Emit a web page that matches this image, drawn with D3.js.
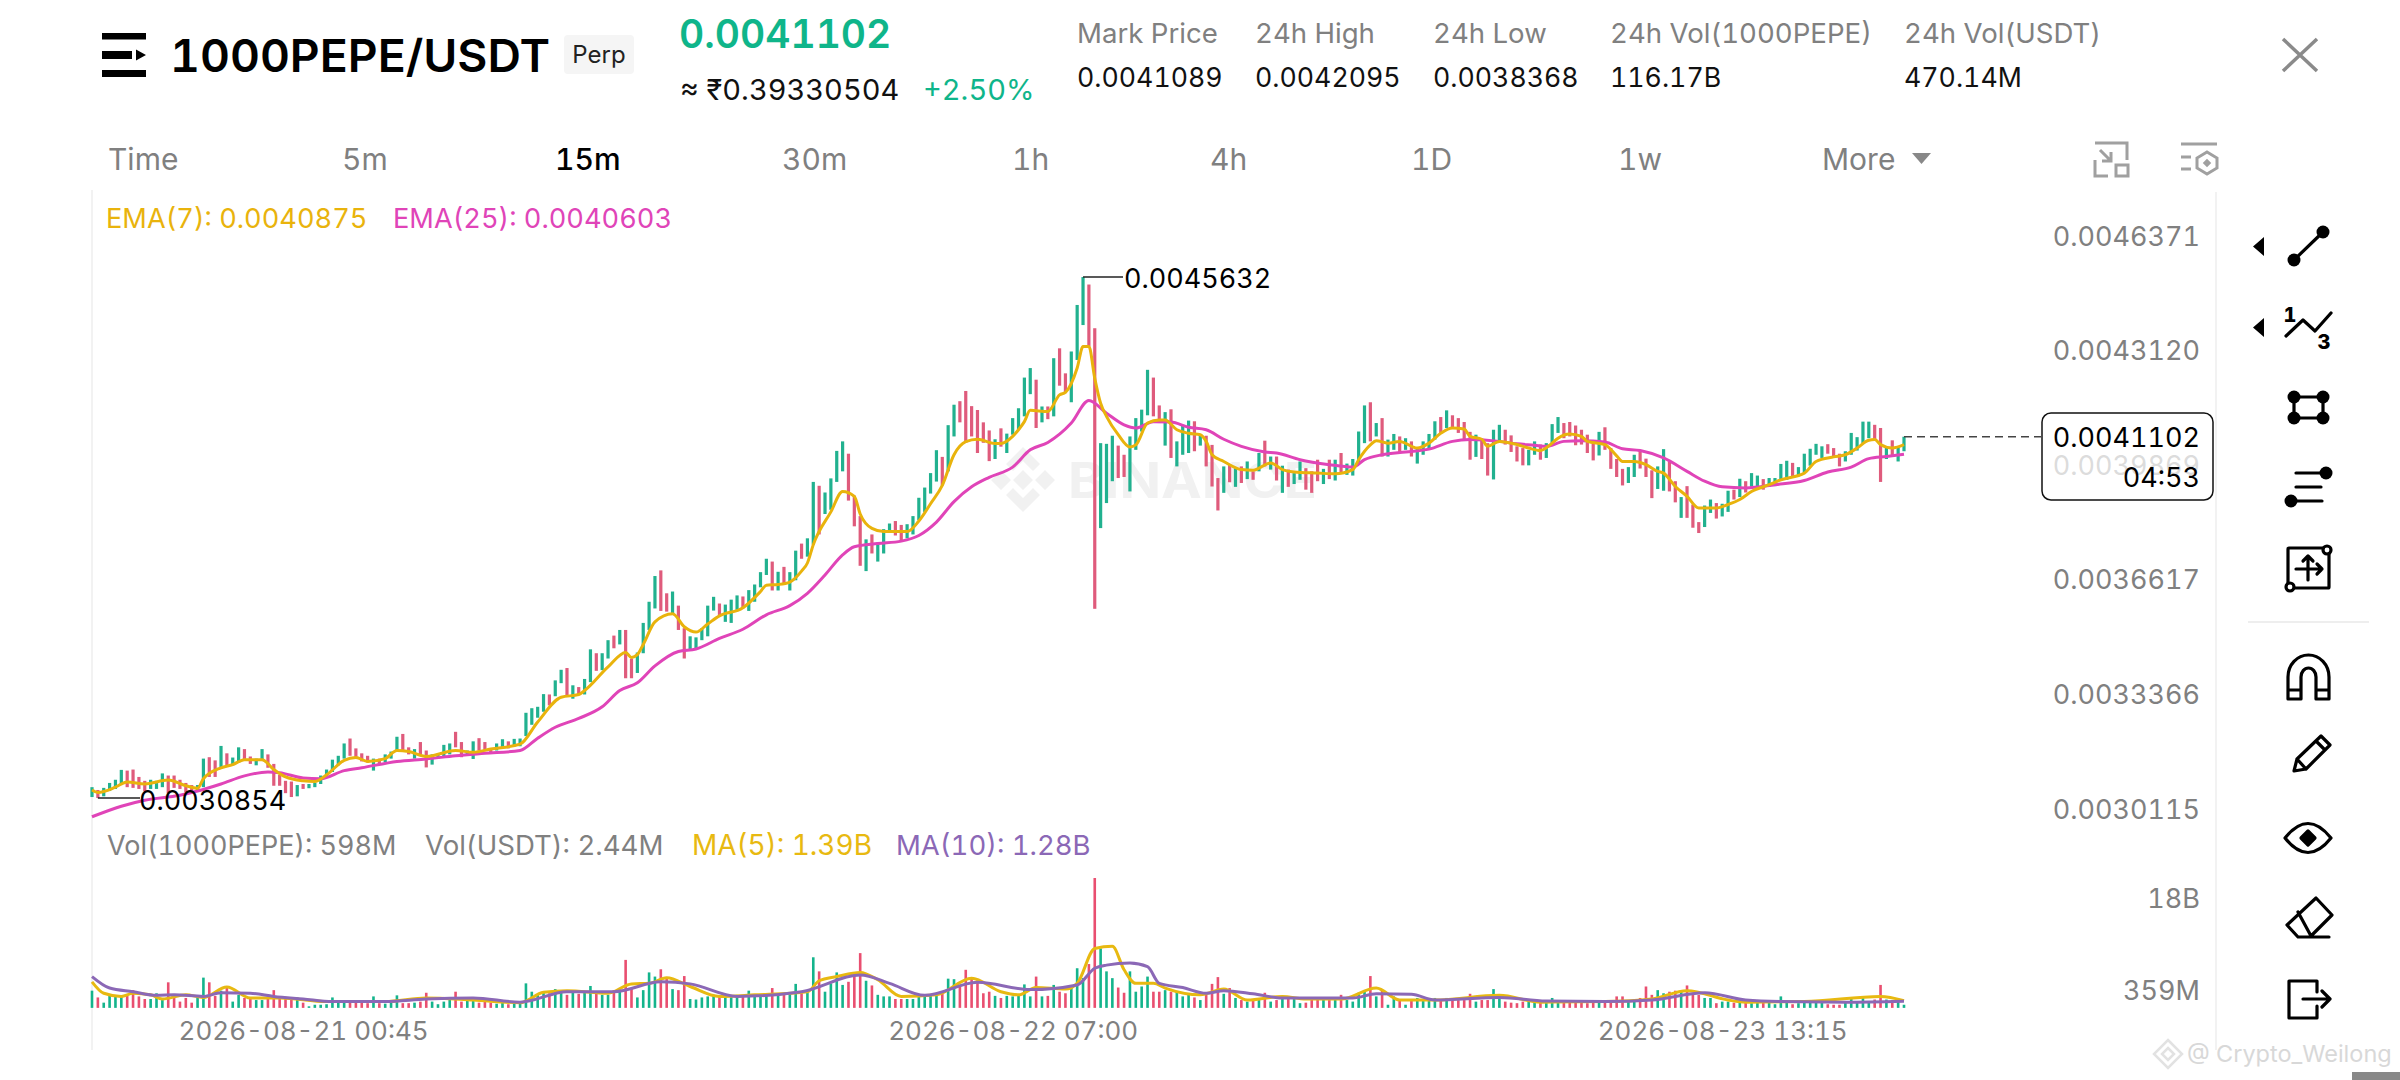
<!DOCTYPE html>
<html>
<head>
<meta charset="utf-8">
<script src="https://cdn.jsdelivr.net/npm/d3@7"></script>
<style>
  html, body { margin: 0; padding: 0; background: #fff; overflow: hidden; }
  svg { display: block; font-family: Inter, 'Open Sans', sans-serif; font-variant-numeric: tabular-nums; font-feature-settings: 'tnum'; }
</style>
</head>
<body>
<div id="chart"></div>
<script>
// prices are in millionths of USDT, volumes in billions of 1000PEPE
const highs = [
  3116,3108,3114,3128,3137,3165,3163,3166,3145,3134,
  3137,3134,3155,3149,3149,3137,3128,3122,3122,3197,
  3201,3192,3233,3212,3200,3229,3224,3203,3197,3224,
  3209,3182,3151,3134,3132,3122,3125,3125,3128,3149,
  3166,3194,3205,3240,3254,3226,3212,3205,3197,3197,
  3209,3217,3259,3267,3229,3224,3244,3220,3209,3209,
  3236,3240,3273,3244,3220,3246,3255,3244,3226,3240,
  3252,3246,3253,3254,3327,3340,3344,3380,3379,3419,
  3449,3454,3405,3400,3423,3507,3496,3496,3533,3546,
  3562,3562,3481,3498,3582,3642,3715,3731,3666,3671,
  3631,3567,3544,3541,3567,3631,3656,3637,3634,3648,
  3660,3657,3675,3691,3726,3764,3756,3727,3741,3726,
  3787,3807,3822,3982,3971,3952,3992,4070,4097,4062,
  3943,3885,3819,3833,3810,3848,3864,3871,3860,3862,
  3885,3937,3966,4007,4072,4053,4143,4201,4211,4240,
  4197,4186,4151,4128,4103,4134,4119,4163,4191,4278,
  4305,4272,4196,4196,4333,4361,4290,4352,4484,4563.2,
  4542,4418,4092,4090,4113,4085,4059,4111,4163,4187,
  4300,4278,4199,4180,4188,4097,4144,4156,4154,4116,
  4113,4087,3993,4026,4031,4021,4026,4040,4012,4064,
  4099,4054,4054,4028,4017,4007,4040,4021,4012,4045,
  4019,4045,4045,4064,4034,4047,4125,4199,4208,4149,
  4163,4102,4118,4111,4106,4097,4081,4097,4118,4154,
  4166,4185,4171,4163,4152,4124,4116,4105,4092,4130,
  4144,4130,4114,4083,4078,4073,4097,4088,4092,4146,
  4166,4149,4152,4142,4130,4116,4092,4124,4137,4078,
  4047,4019,4024,4059,4071,4048,4015,4026,4075,4040,
  3984,3939,3970,3918,3868,3915,3932,3922,3920,3957,
  3960,3991,3984,4007,4000,3990,3993,3993,4033,4042,
  4036,4024,4062,4076,4090,4083,4089,4078,4062,4069,
  4121,4109,4153,4153,4144,4135,4083,4100,4083,4110.2
];
const lows = [
  3088,3085.4,3090,3105,3111,3122,3116,3114,3111,3105,
  3111,3111,3116,3099,3114,3111,3101,3101,3105,3116,
  3145,3145,3168,3174,3178,3186,3192,3182,3178,3192,
  3171,3120,3120,3099,3088,3090,3111,3113,3116,3125,
  3145,3159,3178,3197,3205,3201,3189,3186,3163,3182,
  3186,3197,3217,3220,3209,3197,3209,3172,3180,3197,
  3203,3209,3229,3201,3209,3196,3220,3220,3212,3220,
  3229,3226,3232,3232,3261,3293,3313,3330,3348,3374,
  3411,3377,3367,3377,3379,3414,3446,3448,3481,3510,
  3521,3425,3425,3440,3496,3562,3623,3616,3614,3608,
  3562,3481,3506,3510,3533,3544,3617,3602,3585,3582,
  3619,3623,3616,3642,3683,3718,3674,3674,3691,3674,
  3703,3764,3770,3804,3833,3891,3903,3982,4012,3929,
  3856,3744,3729,3779,3756,3779,3839,3830,3816,3822,
  3833,3874,3897,3949,3983,3972,4012,4111,4151,4093,
  4111,4064,4093,4041,4047,4082,4064,4116,4130,4168,
  4231,4135,4151,4160,4168,4255,4234,4208,4328,4427,
  4366,3622,3851,3922,3984,3993,3996,3955,4073,4125,
  4171,4168,4149,4085,4050,4026,4059,4064,4069,4085,
  4026,3969,3901,3951,3981,3968,3979,3990,3988,4012,
  4026,4017,3986,3951,3968,3976,3988,3960,3951,3984,
  3976,3990,3986,4007,4002,4000,4036,4092,4097,4111,
  4054,4054,4073,4064,4073,4054,4034,4059,4078,4102,
  4120,4135,4135,4121,4102,4045,4053,4047,4000,3989,
  4097,4088,4067,4040,4029,4029,4059,4045,4050,4088,
  4121,4106,4111,4086,4088,4064,4043,4057,4073,4019,
  3996,3972,3979,3996,4020,3996,3936,3962,3957,3955,
  3924,3880,3880,3852,3837,3854,3894,3878,3884,3897,
  3932,3939,3952,3968,3968,3960,3968,3970,3986,3988,
  3998,3998,4009,4028,4059,4050,4062,4054,4026,4040,
  4059,4071,4092,4106,4103,3982,4047,4053,4040,4069
];
// u = up candle, d = down candle, ten per string
const sides = [
  'uduuuudddd','uuuddddduu','dduduudduu','ddddduduuu','uuuuddddud',
  'uuuddudduu','uudduudddu','uduuuuuudu','ududuuduud','udduuuuddu',
  'dduuuuuduu','uduuuududu','uduuduuuud','dduduuuddu','uuuuuduudd',
  'dddduduuuu','udududduuu','dduuudduuu','udduduuudu','dddudududu',
  'dududuuddd','ududuuuudu','duududuuuu','dudddduddu','udddduuduu',
  'uddddddudd','dduuddduud','duddduuduu','duduuduuuu','duuuuudddu',
  'uuuudduduu'
].join('');
const volumes = [
  3.3,2.0,1.0,2.3,2.3,2.2,2.3,3.4,2.2,1.7,
  1.7,2.8,1.5,4.9,2.2,1.2,1.9,1.0,2.2,5.8,
  4.9,2.3,3.3,3.8,1.2,2.5,1.9,1.7,1.5,1.5,
  2.2,3.4,2.2,1.9,2.0,2.0,1.0,0.3,0.6,0.6,
  0.7,2.0,1.2,1.2,1.0,1.0,1.0,0.9,2.2,0.9,
  0.8,1.0,2.4,0.9,0.9,1.0,1.2,2.9,1.2,0.7,
  1.2,1.9,3.1,1.2,1.5,1.5,1.0,1.2,1.0,0.8,
  1.2,0.7,0.9,0.9,4.7,3.1,2.5,3.1,2.8,3.6,
  3.4,2.5,3.1,2.7,2.9,4.2,2.8,2.5,2.5,3.4,
  3.1,9.2,3.8,2.0,3.4,6.8,6.0,7.4,5.9,3.6,
  3.4,6.1,1.7,1.6,2.0,2.2,2.5,2.3,2.3,2.2,
  2.5,2.2,3.3,2.5,2.5,2.8,3.8,2.7,2.8,2.8,
  4.6,2.8,3.1,9.7,7.0,3.1,4.7,6.8,4.4,5.0,
  6.8,10.5,5.2,4.3,2.5,2.2,2.2,1.7,1.7,1.7,
  1.7,2.2,2.2,2.5,2.5,2.8,5.6,5.5,4.4,7.3,
  5.7,5.2,2.8,3.1,2.3,1.9,2.3,2.2,2.3,4.5,
  2.2,6.0,2.2,2.3,4.4,3.1,2.8,4.1,7.6,5.7,
  8.4,24.9,11.4,7.0,5.7,3.9,2.9,7.0,3.1,4.1,
  6.0,3.1,3.1,3.4,3.1,3.1,2.2,2.8,2.0,1.5,
  2.5,4.6,5.9,2.7,3.8,1.9,1.5,1.2,1.5,1.5,
  2.9,1.2,1.5,1.9,2.0,1.9,0.9,1.0,1.9,1.9,
  1.9,1.5,1.9,2.5,1.5,1.2,2.9,3.4,6.1,2.2,
  3.4,0.6,2.2,1.5,0.6,1.5,1.9,1.5,1.5,1.9,
  1.5,1.9,1.5,1.5,1.5,2.7,1.2,1.5,1.5,3.6,
  2.2,1.2,1.0,0.9,1.2,1.3,1.2,1.0,1.2,1.9,
  1.2,1.0,1.0,1.0,1.5,0.9,1.2,1.2,1.0,1.2,
  2.2,2.2,1.2,1.7,1.9,4.1,2.5,3.4,2.8,3.1,
  3.3,3.4,4.3,2.8,2.5,1.9,1.9,0.9,1.2,1.2,
  1.0,1.2,1.2,0.9,1.2,1.2,1.0,0.7,2.2,1.0,
  0.7,0.9,1.0,1.2,1.0,1.0,0.7,0.6,0.6,1.0,
  2.0,1.1,2.2,1.2,1.6,4.4,1.6,1.5,1.3,0.6
];

const ema7Bars = [0,1,4,6,9,13,16,18,19,22,24,26,29,31,33,36,38,40,43,45,47,50,52,54,57,62,65,68,73,76,80,83,84,88,91,92,93,94,96,99,101,103,105,107,111,114,115,117,119,121,122,123,126,128,130,131,133,135,139,141,143,145,147,149,151,154,155,157,158,159,160,163,165,166,168,169,170,171,172,173,175,177,178,180,182,183,185,187,189,190,191,193,196,198,201,203,205,209,212,215,216,218,219,221,223,226,228,230,232,234,235,237,238,240,243,245,247,249,250,252,254,255,258,260,261,263,265,267,268,270,272,274,277,279,281,283,286,288,292,294,297,299,301,303,304,305,307,309];
const ema7 = [3108,3101,3116,3131,3125,3136,3120,3113,3140,3171,3180,3194,3194,3166,3145,3134,3132,3151,3192,3200,3189,3197,3220,3217,3203,3220,3215,3224,3238,3301,3371,3379,3390,3457,3498,3484,3492,3521,3585,3608,3571,3556,3579,3602,3625,3671,3689,3691,3698,3729,3752,3804,3897,3955,3941,3891,3850,3841,3841,3871,3920,3972,4059,4096,4103,4091,4091,4111,4130,4153,4185,4182,4229,4236,4305,4366,4366,4276,4205,4168,4116,4081,4087,4149,4158,4158,4130,4120,4116,4097,4059,4040,4017,4015,4036,4017,4010,4007,4005,4017,4045,4087,4099,4092,4097,4078,4092,4120,4135,4132,4111,4103,4083,4097,4088,4078,4071,4092,4106,4118,4111,4097,4088,4056,4040,4040,4031,4012,4007,3969,3941,3908,3908,3918,3932,3955,3974,3988,4007,4040,4053,4059,4078,4100,4102,4088,4078,4087.5];
const ema25Bars = [0,5,9,15,18,22,26,30,32,36,39,43,46,52,57,62,67,73,76,79,83,87,90,93,96,100,103,107,111,115,119,122,125,128,130,134,138,141,144,147,150,153,157,160,163,167,170,173,176,178,181,184,187,190,193,196,200,202,206,211,215,217,220,224,228,232,235,240,243,246,248,251,254,258,261,264,268,272,275,278,282,287,292,296,300,303,306,309];
const ema25 = [3032,3062,3079,3093,3105,3125,3148,3159,3157,3142,3140,3163,3171,3189,3196,3205,3212,3220,3255,3286,3311,3344,3390,3412,3460,3501,3508,3538,3564,3605,3631,3666,3718,3775,3798,3807,3814,3830,3868,3926,3968,3995,4024,4073,4094,4149,4213,4177,4144,4135,4153,4152,4137,4130,4103,4083,4067,4064,4045,4031,4024,4045,4059,4067,4075,4097,4102,4097,4090,4086,4083,4097,4099,4095,4076,4071,4050,4012,3984,3968,3965,3974,3986,4010,4024,4048,4054,4060.3];
const ma5Bars = [0,2,5,7,10,12,16,19,23,27,32,40,50,57,65,73,77,81,88,92,95,98,102,107,113,122,124,127,131,134,138,144,150,155,158,161,166,168,171,174,176,178,181,183,189,193,197,203,207,213,219,223,229,240,247,258,266,272,279,282,292,305,309];
const ma5 = [5.0,2.8,2.2,2.8,2.5,1.7,2.5,2.0,4.0,1.9,1.9,1.2,1.2,1.9,1.5,1.0,3.0,3.3,2.8,4.6,4.7,5.8,4.1,2.2,2.5,3.1,5.2,6.0,6.8,5.4,2.2,2.5,5.7,3.1,2.5,3.9,3.6,4.7,11.4,11.8,7.3,4.7,4.7,3.8,2.5,3.6,1.5,2.2,1.7,1.7,3.8,1.5,1.5,2.4,1.1,1.2,1.7,3.3,1.5,1.1,1.2,2.2,1.39];
const ma10Bars = [0,3,7,11,14,19,22,27,31,36,41,50,57,65,73,81,89,97,102,110,121,131,136,142,151,160,168,171,173,177,180,182,186,190,193,198,203,215,219,225,229,240,248,258,266,275,282,288,299,309];
const ma10 = [6.0,3.8,3.1,2.4,2.5,2.2,2.9,2.8,2.2,1.7,1.2,1.2,1.7,1.9,1.1,3.1,3.1,5.0,4.6,2.2,3.1,6.3,4.7,2.4,4.9,3.5,4.4,7.6,8.2,8.6,7.9,4.7,3.9,2.8,3.3,2.7,1.9,1.9,2.7,2.6,1.5,2.0,1.3,1.2,1.5,2.9,1.5,1.2,1.1,1.28];

const priceTicks = [3011.5,3336.6,3661.7,3986.9,4312.0,4637.1];
const volumeTicks = [0.359,18];
const volumeTickLabels = ['359M','18B'];
const timeTickBars = [36,157,278];
const timeTickLabels = ['2026-08-21 00:45','2026-08-22 07:00','2026-08-23 13:15'];
const intervals = ['Time','5m','15m','30m','1h','4h','1D','1w','More'];
const statNames = ['Mark Price','24h High','24h Low','24h Vol(1000PEPE)','24h Vol(USDT)'];
const statValues = ['0.0041089','0.0042095','0.0038368','116.17B','470.14M'];
const lastPrice = 4110.2;

const colors = {
  up: '#21b18f', down: '#df5b7c', volUp: '#14b48c', volDown: '#e94f70',
  ema7: '#e9b30c', ema25: '#e044b8', ma5: '#e8b911', ma10: '#8b68b6',
  teal: '#0fb58a', label: '#808080', ink: '#111'
};

const W = 2400, H = 1080;
const svg = d3.select('#chart').append('svg').attr('width', W).attr('height', H).attr('viewBox', `0 0 ${W} ${H}`);

const x = d3.scaleLinear().domain([0, highs.length - 1]).range([92, 1904]);
const y = d3.scaleLinear().domain([3011.5, 4637.1]).range([824, 251]);
const yVol = d3.scaleLinear().domain([0.359, 18]).range([1006, 914]);

function text(g, str, px, py, size, fill, extra) {
  const t = g.append('text').attr('x', px).attr('y', py).attr('font-size', size).attr('fill', fill).text(str);
  Object.entries(extra || {}).forEach(([k, v]) => t.attr(k, v));
  return t;
}

// --- header ---
const head = svg.append('g');
head.append('path').attr('fill', '#000')
  .attr('d', 'M102 33H146V39.5H102Z M102 51H132V59H102Z M136 49.5L146 55L136 60.5Z M102 70H146V77H102Z');
text(head, '1000PEPE/USDT', 170, 72, 45, '#000', { 'font-weight': 600, textLength: 380, lengthAdjust: 'spacingAndGlyphs' });
head.append('rect').attr('x', 564).attr('y', 35).attr('width', 70).attr('height', 39).attr('rx', 4).attr('fill', '#f5f5f5');
text(head, 'Perp', 599, 63, 24, '#222', { 'text-anchor': 'middle' });
text(head, '0.0041102', 679, 48, 39, colors.teal, { 'font-weight': 600 });
text(head, '≈ ₹0.39330504', 680, 100, 29, '#111');
text(head, '+2.50%', 923, 100, 29, colors.teal);

const statX = [1077, 1255, 1433, 1610, 1904];
statNames.forEach((s, i) => {
  text(head, s, statX[i], 43, 27.6, colors.label);
  text(head, statValues[i], statX[i], 87, 26.7, colors.ink);
});
head.append('path').attr('d', 'M2283 39L2317 71M2317 39L2283 71').attr('stroke', '#8a8a8a').attr('stroke-width', 3.5).attr('fill', 'none');

const intervalX = [108, 342, 555, 782, 1012, 1210, 1411, 1618, 1822];
intervals.forEach((s, i) => {
  text(head, s, intervalX[i], 170, 30, s === '15m' ? '#000' : colors.label, s === '15m' ? { 'font-weight': 500 } : {});
});
head.append('path').attr('d', 'M1912 153H1931L1921.5 164Z').attr('fill', '#888');

const hIcons = head.append('g').attr('fill', 'none').attr('stroke', '#a0a0a0').attr('stroke-width', 3);
hIcons.append('path').attr('d', 'M2095 160V176H2108M2095 143H2127V160M2100 150L2111 161M2111 152V161H2102');
hIcons.append('rect').attr('x', 2116).attr('y', 165).attr('width', 12).attr('height', 11);
hIcons.append('path').attr('d', 'M2181 144H2217M2181 157H2191M2181 169H2191');
hIcons.append('path').attr('d', 'M2207 152L2217 158V168L2207 174L2197 168V158Z');
head.append('rect').attr('x', 2204).attr('y', 160).attr('width', 6).attr('height', 6).attr('fill', '#a0a0a0').attr('transform', 'rotate(45 2207 163)');

// --- frame lines ---
svg.append('line').attr('x1', 92).attr('x2', 92).attr('y1', 190).attr('y2', 1050).attr('stroke', '#eee').attr('stroke-width', 1.5);
svg.append('line').attr('x1', 2216).attr('x2', 2216).attr('y1', 192).attr('y2', 1050).attr('stroke', '#eee').attr('stroke-width', 1.5);

// --- watermark ---
const mark = svg.append('g').attr('fill', '#f1f1f1');
mark.append('path').attr('d', 'M1023 447L1040 464L1033 471L1023 461L1013 471L1006 464Z M1023 512L1006 495L1013 488L1023 498L1033 488L1040 495Z M1001 470L1011 480L1001 490L991 480Z M1045 470L1055 480L1045 490L1035 480Z M1023 470L1033 480L1023 490L1013 480Z');
text(mark, 'BINANCE', 1068, 498, 49, '#f1f1f1', { 'font-weight': 700, textLength: 249, lengthAdjust: 'spacingAndGlyphs' });

// --- candles ---
const bars = highs.map((h, i) => ({ i, h, l: lows[i], up: sides[i] === 'u', v: volumes[i] }));
svg.append('g').selectAll('rect').data(bars).join('rect')
  .attr('x', d => x(d.i) - 1.6).attr('width', 3.2)
  .attr('y', d => y(d.h)).attr('height', d => Math.max(1, y(d.l) - y(d.h)))
  .attr('fill', d => d.up ? colors.up : colors.down);

const priceLine = d3.line().x(d => x(d[0])).y(d => y(d[1])).curve(d3.curveMonotoneX);
const volLine = d3.line().x(d => x(d[0])).y(d => yVol(d[1])).curve(d3.curveMonotoneX);
function drawLine(gen, idx, vals, color, sw) {
  svg.append('path').attr('d', gen(idx.map((k, j) => [k, vals[j]])))
    .attr('fill', 'none').attr('stroke', color).attr('stroke-width', sw).attr('stroke-linejoin', 'round');
}
drawLine(priceLine, ema25Bars, ema25, colors.ema25, 3);
drawLine(priceLine, ema7Bars, ema7, colors.ema7, 3);

// high / low markers
const hiBar = 169, loBar = 1;
const marks = svg.append('g');
marks.append('line').attr('x1', x(hiBar)).attr('x2', 1123).attr('y1', y(highs[hiBar])).attr('y2', y(highs[hiBar])).attr('stroke', '#222').attr('stroke-width', 1.5);
text(marks, '0.0045632', 1124, y(highs[hiBar]) + 11, 27, '#000');
marks.append('line').attr('x1', x(loBar)).attr('x2', 140).attr('y1', y(lows[loBar])).attr('y2', y(lows[loBar])).attr('stroke', '#222').attr('stroke-width', 1.5);
text(marks, '0.0030854', 139, y(lows[loBar]) + 12, 27, '#000');

// legends
text(svg, 'EMA(7): 0.0040875', 106, 228, 27.2, colors.ema7);
text(svg, 'EMA(25): 0.0040603', 393, 228, 27.2, colors.ema25);
text(svg, 'Vol(1000PEPE): 598M', 107, 855, 27, colors.label);
text(svg, 'Vol(USDT): 2.44M', 425, 855, 27.6, colors.label);
text(svg, 'MA(5): 1.39B', 692, 855, 28, colors.ma5);
text(svg, 'MA(10): 1.28B', 896, 855, 27.5, colors.ma10);

// --- price axis ---
const priceAxis = svg.append('g').attr('transform', 'translate(2200,0)')
  .call(d3.axisLeft(y).tickValues(priceTicks).tickSize(0).tickPadding(0).tickFormat(d => (d / 1e6).toFixed(7)));
priceAxis.select('.domain').remove();
priceAxis.selectAll('text').attr('dy', -6).attr('font-size', 27).attr('font-family', 'Inter, sans-serif').attr('fill', colors.label);

// last price line and box
svg.append('line').attr('x1', x(highs.length - 1)).attr('x2', 2041).attr('y1', y(lastPrice)).attr('y2', y(lastPrice))
  .attr('stroke', '#444').attr('stroke-width', 1.5).attr('stroke-dasharray', '8,5');
svg.append('rect').attr('x', 2042).attr('y', 413).attr('width', 171).attr('height', 87).attr('rx', 9)
  .attr('fill', '#fff').attr('fill-opacity', 0.72).attr('stroke', '#111').attr('stroke-width', 1.5);
text(svg, '0.0041102', 2200, 447, 27, '#000', { 'text-anchor': 'end' });
text(svg, '04:53', 2200, 487, 27, '#000', { 'text-anchor': 'end' });

// --- volume ---
svg.append('g').selectAll('rect').data(bars).join('rect')
  .attr('x', d => x(d.i) - 1.3).attr('width', 2.6)
  .attr('y', d => yVol(d.v)).attr('height', d => yVol(0) - yVol(d.v))
  .attr('fill', d => d.up ? colors.volUp : colors.volDown);
drawLine(volLine, ma5Bars, ma5, colors.ma5, 3);
drawLine(volLine, ma10Bars, ma10, colors.ma10, 3);

const volAxis = svg.append('g').attr('transform', 'translate(2200,0)')
  .call(d3.axisLeft(yVol).tickValues(volumeTicks).tickSize(0).tickPadding(0).tickFormat((d, i) => volumeTickLabels[i]));
volAxis.select('.domain').remove();
volAxis.selectAll('text').attr('dy', -7).attr('font-size', 27).attr('font-family', 'Inter, sans-serif').attr('fill', colors.label);

// --- time axis ---
const timeAxis = svg.append('g').attr('transform', 'translate(0,1040)')
  .call(d3.axisBottom(x).tickValues(timeTickBars).tickSize(0).tickPadding(0).tickFormat((d, i) => timeTickLabels[i]));
timeAxis.select('.domain').remove();
timeAxis.selectAll('text').attr('y', 0).attr('dy', 0).attr('font-size', 26).attr('font-family', 'Inter, sans-serif').attr('fill', colors.label);

// --- toolbar ---
const tools = svg.append('g').attr('fill', 'none').attr('stroke', '#000').attr('stroke-width', 3.2).attr('stroke-linejoin', 'round').attr('stroke-linecap', 'round');
function dots(pts, r) {
  pts.forEach(p => tools.append('circle').attr('cx', p[0]).attr('cy', p[1]).attr('r', r).attr('fill', '#000').attr('stroke', 'none'));
}
tools.append('path').attr('d', 'M2264 237V256L2253 246.5Z M2264 318V337L2253 327.5Z').attr('fill', '#000').attr('stroke', 'none');
tools.append('path').attr('d', 'M2294 260L2323 232');
dots([[2294, 260], [2323, 232]], 6.5);
tools.append('path').attr('d', 'M2286 336L2303 320L2315 331L2331 313');
text(tools, '1', 2290, 322, 20, '#000', { 'text-anchor': 'middle', 'font-weight': 800, stroke: 'none' });
text(tools, '3', 2324, 349, 20, '#000', { 'text-anchor': 'middle', 'font-weight': 800, stroke: 'none' });
tools.append('rect').attr('x', 2294).attr('y', 397).attr('width', 29).attr('height', 21);
dots([[2294, 397], [2323, 397], [2294, 418], [2323, 418]], 6.5);
tools.append('path').attr('d', 'M2296 473H2323M2296 487H2321M2291 501H2322');
dots([[2326, 473], [2291, 501]], 6.5);
tools.append('rect').attr('x', 2288).attr('y', 548).attr('width', 41).attr('height', 40).attr('rx', 1);
tools.append('circle').attr('cx', 2327).attr('cy', 550).attr('r', 4).attr('fill', '#fff');
tools.append('circle').attr('cx', 2290).attr('cy', 587).attr('r', 4).attr('fill', '#fff');
tools.append('path').attr('d', 'M2308 556V580M2296 569H2322M2303 561L2308 556L2313 561M2317 564L2322 569L2317 574');
svg.append('line').attr('x1', 2248).attr('x2', 2369).attr('y1', 622).attr('y2', 622).attr('stroke', '#eee').attr('stroke-width', 2);
tools.append('path').attr('d', 'M2288 699V677A20.5 22 0 0 1 2329 677V699H2316V677A7.5 9 0 0 0 2301 677V699Z M2288 690H2301M2316 690H2329');
tools.append('path').attr('d', 'M2294 771L2297 759L2321 736L2330 745L2306 769Z M2316 741L2325 750M2297 759L2306 769');
tools.append('path').attr('d', 'M2285 838Q2308 809 2331 838Q2308 867 2285 838Z');
tools.append('path').attr('d', 'M2308 831L2315 838L2308 845L2301 838Z').attr('fill', '#000');
tools.append('path').attr('d', 'M2316 898L2332 915L2310 937H2298L2287 925Z M2298 912L2311 936M2310 937H2329');
tools.append('path').attr('d', 'M2317 992V981H2289V1018H2317V1006M2303 999H2330M2322 991L2330 999L2322 1007');

// --- corner credit ---
text(svg, '@ Crypto_Weilong', 2187, 1062, 23.5, '#d8d8d8');
svg.append('path').attr('d', 'M2168 1040L2182 1054L2168 1068L2154 1054Z M2168 1048L2174 1054L2168 1060L2162 1054Z')
  .attr('fill', 'none').attr('stroke', '#e2e2e2').attr('stroke-width', 2.5);
svg.append('rect').attr('x', 2352).attr('y', 1072).attr('width', 48).attr('height', 8).attr('fill', '#888');
</script>
</body>
</html>
